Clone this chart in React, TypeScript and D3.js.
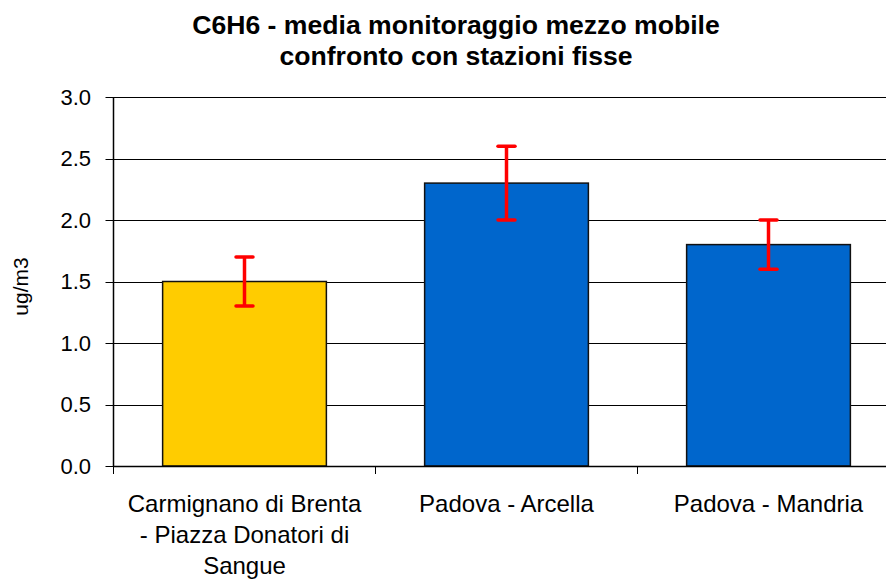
import * as d3 from "d3";
import { useEffect, useRef } from "react";

const categories = ["Carmignano di Brenta - Piazza Donatori di Sangue", "Padova - Arcella", "Padova - Mandria"];
const categoryLines = [["Carmignano di Brenta", "- Piazza Donatori di", "Sangue"], ["Padova - Arcella"], ["Padova - Mandria"]];
const means = [1.5, 2.3, 1.8];
const errLow = [1.3, 2.0, 1.6];
const errHigh = [1.7, 2.6, 2.0];
const barColors = ["#FFCC00", "#0066CC", "#0066CC"];
const yTicks = [0, 0.5, 1, 1.5, 2, 2.5, 3];
const titleLines = ["C6H6 - media monitoraggio mezzo mobile", "confronto con stazioni fisse"];

export default function App() {
  const ref = useRef<SVGSVGElement>(null);

  useEffect(() => {
    const svg = d3.select(ref.current);
    svg.selectAll("*").remove();

    const width = 886;
    const height = 580;
    const left = 113.5;
    const top = 97;
    const bottom = 466;
    const bandW = 262;

    svg.attr("width", width).attr("height", height);

    const x = d3
      .scaleBand()
      .domain(categories)
      .range([left, left + bandW * 3])
      .paddingInner(0.375)
      .paddingOuter(0.1875);

    const y = d3.scaleLinear().domain([0, 3]).range([bottom, top]);

    const font = "'Liberation Sans', Arial, sans-serif";

    // gridlines
    svg
      .append("g")
      .selectAll("line")
      .data(yTicks.filter(d => d > 0))
      .enter()
      .append("line")
      .attr("x1", left)
      .attr("x2", left + bandW * 3)
      .attr("y1", d => Math.round(y(d)) + 0.5)
      .attr("y2", d => Math.round(y(d)) + 0.5)
      .attr("stroke", "#000")
      .attr("stroke-width", 1);

    // bars
    svg
      .append("g")
      .selectAll("rect")
      .data(categories)
      .enter()
      .append("rect")
      .attr("x", d => x(d)!)
      .attr("y", (d, i) => y(means[i]))
      .attr("width", x.bandwidth())
      .attr("height", (d, i) => bottom - y(means[i]))
      .attr("fill", (d, i) => barColors[i])
      .attr("stroke", "#111")
      .attr("stroke-width", 1.5);

    // error bars
    const eb = svg.append("g").attr("stroke", "#FF0000").attr("stroke-width", 3.5);
    categories.forEach((c, i) => {
      const cx = x(c)! + x.bandwidth() / 2;
      eb.append("line").attr("x1", cx).attr("x2", cx).attr("y1", y(errLow[i])).attr("y2", y(errHigh[i]));
      [errLow[i], errHigh[i]].forEach(v => {
        eb.append("line")
          .attr("x1", cx - 8.5)
          .attr("x2", cx + 8.5)
          .attr("y1", y(v))
          .attr("y2", y(v))
          .attr("stroke-linecap", "round");
      });
    });

    // y axis
    const ya = svg.append("g");
    ya.append("line")
      .attr("x1", left)
      .attr("x2", left)
      .attr("y1", top)
      .attr("y2", bottom)
      .attr("stroke", "#000")
      .attr("stroke-width", 1.5);
    ya.selectAll(".tk")
      .data(yTicks)
      .enter()
      .append("line")
      .attr("x1", left - 8)
      .attr("x2", left)
      .attr("y1", d => Math.round(y(d)) + 0.5)
      .attr("y2", d => Math.round(y(d)) + 0.5)
      .attr("stroke", "#000");
    ya.selectAll("text")
      .data(yTicks)
      .enter()
      .append("text")
      .attr("x", 91)
      .attr("y", d => y(d))
      .attr("dy", "0.35em")
      .attr("text-anchor", "end")
      .style("font-family", font)
      .style("font-size", "22px")
      .text(d => d.toFixed(1));

    // x axis
    const xa = svg.append("g");
    xa.append("line")
      .attr("x1", left)
      .attr("x2", left + bandW * 3)
      .attr("y1", bottom + 0.5)
      .attr("y2", bottom + 0.5)
      .attr("stroke", "#000")
      .attr("stroke-width", 1.5);
    xa.selectAll(".tk")
      .data(d3.range(4))
      .enter()
      .append("line")
      .attr("x1", i => left + bandW * i)
      .attr("x2", i => left + bandW * i)
      .attr("y1", bottom)
      .attr("y2", bottom + 8)
      .attr("stroke", "#000");
    categories.forEach((c, i) => {
      const cx = x(c)! + x.bandwidth() / 2;
      xa.append("text")
        .attr("text-anchor", "middle")
        .style("font-family", font)
        .style("font-size", "24px")
        .selectAll("tspan")
        .data(categoryLines[i])
        .enter()
        .append("tspan")
        .attr("x", cx)
        .attr("y", (d, j) => 512 + j * 31)
        .text(d => d);
    });

    // y title
    svg
      .append("text")
      .attr("transform", `translate(28,${(top + bottom) / 2 + 5}) rotate(-90)`)
      .attr("text-anchor", "middle")
      .style("font-family", font)
      .style("font-size", "21px")
      .text("ug/m3");

    // title
    svg
      .append("text")
      .attr("text-anchor", "middle")
      .style("font-family", font)
      .style("font-size", "26.6px")
      .style("font-weight", "bold")
      .selectAll("tspan")
      .data(titleLines)
      .enter()
      .append("tspan")
      .attr("x", 456)
      .attr("y", (d, i) => 34 + i * 31)
      .text(d => d);
  }, []);

  return (
    <div style={{ position: "absolute", left: 0, top: 0 }}>
      <svg ref={ref} style={{ display: "block", overflow: "hidden" }} />
    </div>
  );
}
